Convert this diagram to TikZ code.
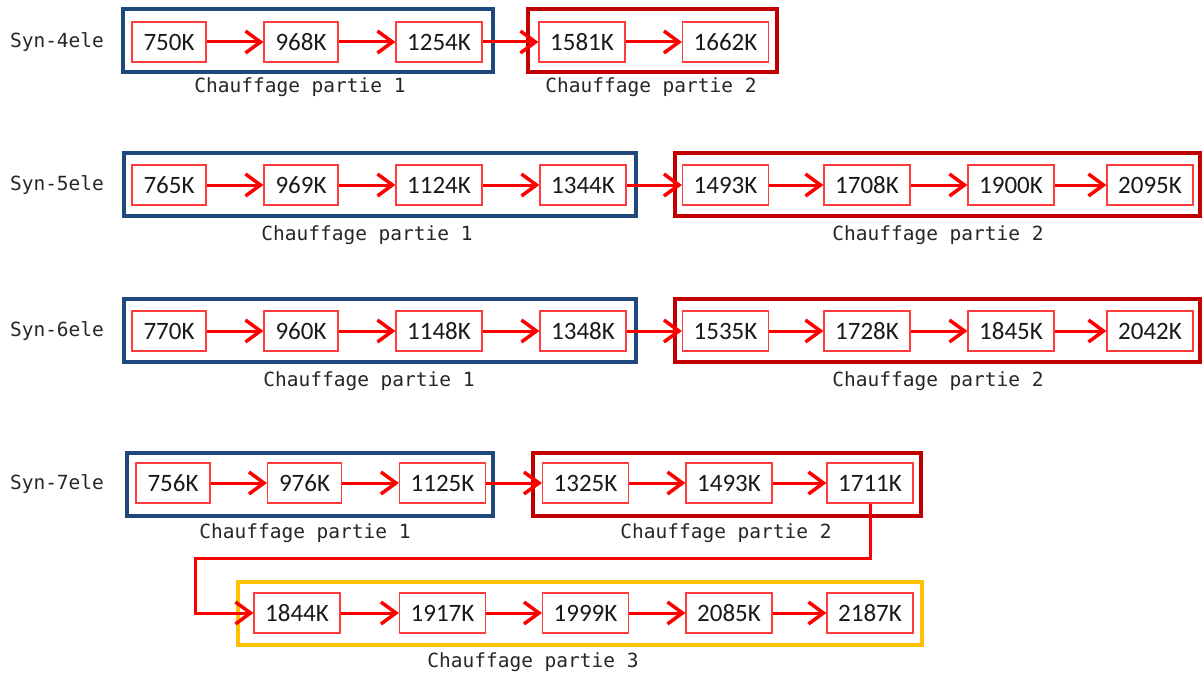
\documentclass[tikz,border=0pt]{standalone}
\usepackage{fontspec}
\usetikzlibrary{arrows.meta}
\newfontfamily\numfont{Carlito}
\newfontfamily\lblfont{DejaVu Sans Mono}
\definecolor{grpblue}{HTML}{1F497D}
\definecolor{grpred}{HTML}{C00000}
\definecolor{grpyellow}{HTML}{FFC000}
\definecolor{valred}{HTML}{FF3B3B}
\definecolor{arrred}{HTML}{FF0000}
\tikzset{
  val/.style={draw=valred, line width=1.2pt, minimum height=40pt, inner sep=0pt,
    font=\numfont\fontsize{25}{30}\selectfont, text=black!90},
  vfour/.style={val, minimum width=74pt},
  vfive/.style={val, minimum width=86pt},
  grp/.style={line width=4pt, minimum height=63pt, inner sep=0pt},
  gblue/.style={grp, draw=grpblue},
  gred/.style={grp, draw=grpred},
  gyellow/.style={grp, draw=grpyellow},
  lbl/.style={font=\lblfont\fontsize{19.5}{24}\selectfont, text=black!85, inner sep=0pt},
  flow/.style={draw=arrred, line width=3pt, -{Straight Barb[length=15pt,width=22pt,line width=3.5pt]}},
}
\begin{document}
\begin{tikzpicture}[x=1pt,y=-1pt]
\useasboundingbox (0,0) rectangle (1202,677);
% group boxes (drawn first)
\node[gblue, minimum width=370pt] (b1) at (308,40.5) {};
\node[gred, minimum width=249pt] (r1) at (652.5,40.5) {};
\node[gblue, minimum width=512pt] (b2) at (380,184.5) {};
\node[gred, minimum width=525pt] (r2) at (937.5,184.5) {};
\node[gblue, minimum width=512pt] (b3) at (380,330.5) {};
\node[gred, minimum width=525pt] (r3) at (937.5,330.5) {};
\node[gblue, minimum width=366pt] (b4) at (310,484) {};
\node[gred, minimum width=388pt] (r4) at (727,484) {};
\node[gyellow, minimum width=684pt] (y5) at (580,613.5) {};
% row labels
\node[lbl] (s4) at (57,42) {Syn-4ele};
\node[lbl] (s5) at (57,185) {Syn-5ele};
\node[lbl] (s6) at (57,331) {Syn-6ele};
\node[lbl] (s7) at (57,484) {Syn-7ele};
% row 1
\node[vfour] (a1) at (169,42) {750K};
\node[vfour] (a2) at (301,42) {968K};
\node[vfive] (a3) at (439,42) {1254K};
\node[vfive] (a4) at (582,42) {1581K};
\node[vfive] (a5) at (725.5,42) {1662K};
% row 2
\node[vfour] (c1) at (169,185) {765K};
\node[vfour] (c2) at (301,185) {969K};
\node[vfive] (c3) at (439,185) {1124K};
\node[vfive] (c4) at (583,185) {1344K};
\node[vfive] (c5) at (725.5,185) {1493K};
\node[vfive] (c6) at (867,185) {1708K};
\node[vfive] (c7) at (1011,185) {1900K};
\node[vfive] (c8) at (1150,185) {2095K};
% row 3
\node[vfour] (d1) at (169,331) {770K};
\node[vfour] (d2) at (301,331) {960K};
\node[vfive] (d3) at (439,331) {1148K};
\node[vfive] (d4) at (583,331) {1348K};
\node[vfive] (d5) at (725.5,331) {1535K};
\node[vfive] (d6) at (867,331) {1728K};
\node[vfive] (d7) at (1011,331) {1845K};
\node[vfive] (d8) at (1150,331) {2042K};
% row 4
\node[vfour] (e1) at (173,483) {756K};
\node[vfour] (e2) at (304.5,483) {976K};
\node[vfive] (e3) at (442.5,483) {1125K};
\node[vfive] (e4) at (585.5,483) {1325K};
\node[vfive] (e5) at (729,483) {1493K};
\node[vfive] (e6) at (870,483) {1711K};
% row 5
\node[vfive] (f1) at (297,613) {1844K};
\node[vfive] (f2) at (442.5,613) {1917K};
\node[vfive] (f3) at (585.5,613) {1999K};
\node[vfive] (f4) at (729,613) {2085K};
\node[vfive] (f5) at (870,613) {2187K};
% group labels
\node[lbl] (l1a) at (300,87) {Chauffage partie 1};
\node[lbl] (l1b) at (651,87) {Chauffage partie 2};
\node[lbl] (l2a) at (367,235) {Chauffage partie 1};
\node[lbl] (l2b) at (938,235) {Chauffage partie 2};
\node[lbl] (l3a) at (369,381) {Chauffage partie 1};
\node[lbl] (l3b) at (938,381) {Chauffage partie 2};
\node[lbl] (l4a) at (305,533) {Chauffage partie 1};
\node[lbl] (l4b) at (726,533) {Chauffage partie 2};
\node[lbl] (l5) at (533,662) {Chauffage partie 3};
% arrows
\foreach \p/\q in {a1/a2,a2/a3,a3/a4,a4/a5,
  c1/c2,c2/c3,c3/c4,c4/c5,c5/c6,c6/c7,c7/c8,
  d1/d2,d2/d3,d3/d4,d4/d5,d5/d6,d6/d7,d7/d8,
  e1/e2,e2/e3,e3/e4,e4/e5,e5/e6,
  f1/f2,f2/f3,f3/f4,f4/f5}
  \draw[flow] (\p.east) -- (\q.west);
\coordinate (k1) at (870,558);
\coordinate (k2) at (195,558);
\coordinate (k3) at (195,613);
\draw[flow] (e6.south) -- (k1) -- (k2) -- (k3) -- (f1.west);
\end{tikzpicture}
\end{document}
